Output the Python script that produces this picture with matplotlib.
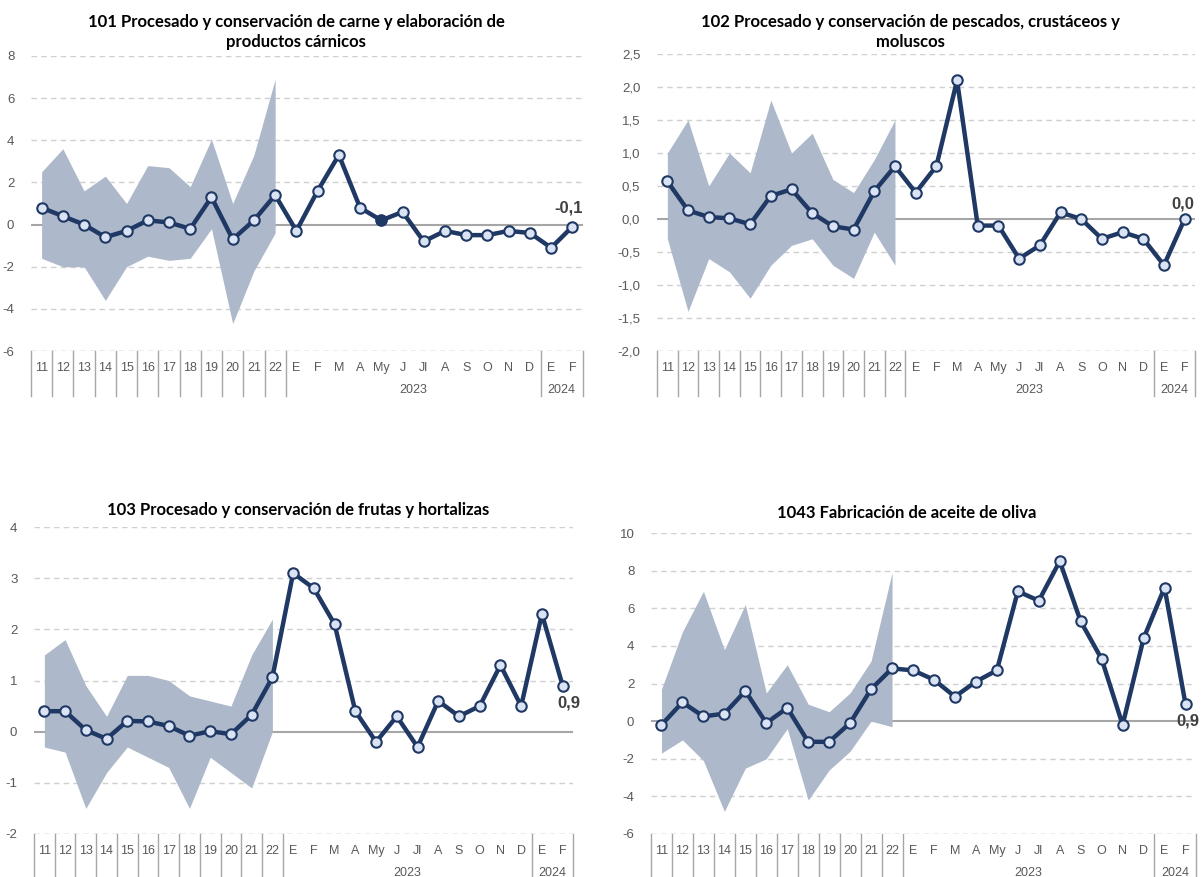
import matplotlib
matplotlib.use('Agg')
import matplotlib.pyplot as plt

# Category labels (2011-2022 annual, then monthly 2023 and 2024)
cats = ['11', '12', '13', '14', '15', '16', '17', '18', '19', '20', '21', '22',
        'E', 'F', 'M', 'A', 'My', 'J', 'Jl', 'A', 'S', 'O', 'N', 'D', 'E', 'F']
years = ['2023', '2024']

titles = ['101 Procesado y conservación de carne y elaboración de\nproductos cárnicos',
          '102 Procesado y conservación de pescados, crustáceos y\nmoluscos',
          '103 Procesado y conservación de frutas y hortalizas',
          '1043 Fabricación de aceite de oliva']

# Panel 101
v101 = [0.8, 0.4, 0.0, -0.6, -0.3, 0.2, 0.1, -0.2, 1.3, -0.7, 0.2, 1.4,
        -0.3, 1.6, 3.3, 0.8, 0.2, 0.6, -0.8, -0.3, -0.5, -0.5, -0.3, -0.4, -1.1, -0.1]
hi101 = [2.5, 3.6, 1.6, 2.3, 1.0, 2.8, 2.7, 1.8, 4.05, 1.0, 3.3, 6.9]
lo101 = [-1.6, -2.0, -2.0, -3.6, -2.0, -1.5, -1.7, -1.6, -0.2, -4.7, -2.2, -0.4]

# Panel 102
v102 = [0.57, 0.13, 0.03, 0.01, -0.08, 0.35, 0.45, 0.09, -0.11, -0.16, 0.42, 0.8,
        0.4, 0.8, 2.1, -0.1, -0.1, -0.6, -0.4, 0.1, 0.0, -0.3, -0.2, -0.3, -0.7, 0.0]
hi102 = [1.0, 1.5, 0.5, 1.0, 0.7, 1.8, 1.0, 1.3, 0.6, 0.4, 0.9, 1.5]
lo102 = [-0.3, -1.4, -0.6, -0.8, -1.2, -0.7, -0.4, -0.3, -0.7, -0.9, -0.2, -0.7]

# Panel 103
v103 = [0.4, 0.4, 0.03, -0.14, 0.21, 0.2, 0.11, -0.08, 0.01, -0.05, 0.33, 1.06,
        3.1, 2.8, 2.1, 0.4, -0.2, 0.3, -0.3, 0.6, 0.3, 0.5, 1.3, 0.5, 2.3, 0.9]
hi103 = [1.5, 1.8, 0.9, 0.3, 1.1, 1.1, 1.0, 0.7, 0.6, 0.5, 1.5, 2.2]
lo103 = [-0.3, -0.4, -1.5, -0.8, -0.3, -0.5, -0.7, -1.5, -0.5, -0.8, -1.1, 0.0]

# Panel 1043
v1043 = [-0.2, 1.0, 0.25, 0.4, 1.6, -0.1, 0.7, -1.1, -1.1, -0.1, 1.7, 2.8,
         2.7, 2.2, 1.3, 2.1, 2.7, 6.9, 6.4, 8.5, 5.3, 3.3, -0.2, 4.4, 7.1, 0.9]
hi1043 = [1.7, 4.75, 6.9, 3.8, 6.2, 1.5, 3.0, 0.9, 0.5, 1.5, 3.2, 7.9]
lo1043 = [-1.7, -1.0, -2.1, -4.8, -2.5, -2.0, -0.4, -4.2, -2.6, -1.6, 0.0, -0.3]

last_labels = ['-0,1', '0,0', '0,9', '0,9']

# Layout in pixels: (left, right, top, bottom) of each plot area
W, H = 1203, 877
boxes = [(31, 583, 56, 351), (657, 1195, 54, 351),
         (34, 573, 527, 834), (651, 1196, 533, 834)]
title_pos = [(296, 32), (910, 32), (298, 510), (907, 513)]
yranges = [(-6, 8, 2, 0), (-2.0, 2.5, 0.5, 1), (-2, 4, 1, 0), (-6, 10, 2, 0)]
label_offsets = [(-4, 19), (-2, 15), (6, -17), (2, -17)]

series = [(v101, hi101, lo101), (v102, hi102, lo102),
          (v103, hi103, lo103), (v1043, hi1043, lo1043)]

NAVY = '#1f3864'
BAND = '#adb9ca'
GRAY_TXT = '#595959'
narrow = ['Liberation Sans', 'DejaVu Sans']

fig = plt.figure(figsize=(W / 100, H / 100), dpi=100)

for n in range(4):
    l, r, t, b = boxes[n]
    ax = fig.add_axes([l / W, 1 - b / H, (r - l) / W, (b - t) / H])
    vals, hi, lo = series[n]
    ymin, ymax, step, dec = yranges[n]
    x = list(range(len(cats)))

    ax.set_xlim(-0.5, len(cats) - 0.5)
    ax.set_ylim(ymin, ymax)
    for s in ax.spines.values():
        s.set_visible(False)

    # gridlines
    nt = int(round((ymax - ymin) / step))
    ticks = [ymin + i * step for i in range(nt + 1)]
    for tv in ticks:
        if abs(tv) > 1e-9:
            ax.axhline(tv, color='#d0d0d0', lw=1.0, ls=(0, (4, 3)), zorder=0)
    ax.axhline(0, color='#a6a6a6', lw=1.5, zorder=1)

    ax.set_yticks(ticks)
    if dec:
        ax.set_yticklabels([('%.1f' % tv).replace('.', ',') for tv in ticks])
    else:
        ax.set_yticklabels(['%d' % tv for tv in ticks])
    ax.tick_params(axis='y', length=0, pad=12, labelsize=9.5, labelcolor=GRAY_TXT)
    for lab in ax.get_yticklabels():
        lab.set_family(narrow)

    ax.set_xticks(x)
    ax.set_xticklabels(cats)
    ax.tick_params(axis='x', length=0, pad=8, labelsize=9, labelcolor=GRAY_TXT)
    for lab in ax.get_xticklabels():
        lab.set_family(narrow)

    # band for annual values
    xb = x[:len(hi)]
    ax.fill_between(xb, lo, hi, color=BAND, lw=0, zorder=2)

    ax.plot(x, vals, color=NAVY, lw=3.2, zorder=3, marker='o', ms=7.5,
            mfc='#dae3f3', mec=NAVY, mew=1.5)
    if n == 0:
        ax.plot(x[16], vals[16], 'o', ms=7.5, mfc=NAVY, mec=NAVY, zorder=4)

    ax.annotate(last_labels[n], (x[-1], vals[-1]), xytext=label_offsets[n],
                textcoords='offset pixels', ha='center', va='center',
                fontsize=12, fontweight='bold', color='#404040',
                family=['Liberation Sans', 'DejaVu Sans'], zorder=5)

    # category separators and year labels below the axis
    hpx = b - t
    trans = ax.get_xaxis_transform()
    seps = [i - 0.5 for i in range(13)] + [23.5, 25.5]
    for sx in seps:
        ax.plot([sx, sx], [0, -45 / hpx], transform=trans, color='#a6a6a6',
                lw=1.0, clip_on=False)
    ax.axhline(ymin, color='#d0d0d0', lw=1.0, ls=(0, (4, 3)), zorder=0)
    ax.text(17.5, -39 / hpx, years[0], transform=trans, ha='center', va='center',
            fontsize=9, color=GRAY_TXT, family=narrow)
    ax.text(24.5, -39 / hpx, years[1], transform=trans, ha='center', va='center',
            fontsize=9, color=GRAY_TXT, family=narrow)

    tx, ty = title_pos[n]
    fig.text(tx / W, 1 - ty / H, titles[n], ha='center', va='center',
             fontsize=12, fontweight='bold', family=['Lato', 'DejaVu Sans'],
             linespacing=1.3, color='black')

fig.savefig('out.png', dpi=100)
